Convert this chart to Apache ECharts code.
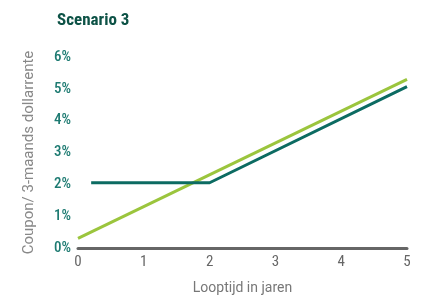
<!DOCTYPE html>
<html><head><meta charset="utf-8">
<script src="https://cdn.jsdelivr.net/npm/echarts@6/dist/echarts.min.js"></script>
<style>html,body{margin:0;padding:0;background:#fff}#c{width:422px;height:300px}</style>
</head><body><div id="c"></div>
<script>
const title = 'Scenario 3';
const yAxisName = 'Coupon/ 3-maands dollarrente';
const xAxisName = 'Looptijd in jaren';
const couponX = [0.2, 2, 5];
const couponY = [2.05, 2.05, 5.07];
const rateX = [0, 5];
const rateY = [0.3, 5.3];
const yTicks = [0, 1, 2, 3, 4, 5, 6];
const xTicks = [0, 1, 2, 3, 4, 5];

const font = '"Liberation Sans Narrow", "Roboto Condensed", Roboto, sans-serif';
const chart = echarts.init(document.getElementById('c'), null, {renderer: 'canvas'});
chart.setOption({
  animation: false,
  title: {text: title, left: 52, top: 7, textStyle: {fontFamily: font, fontSize: 17, fontWeight: 'bold', color: '#0d5246'}},
  grid: {left: 78, right: 15, top: 57, bottom: 52},
  xAxis: {
    type: 'value', min: xTicks[0], max: xTicks[xTicks.length-1], interval: 1,
    name: xAxisName, nameLocation: 'middle', nameGap: 33,
    nameTextStyle: {fontFamily: 'Roboto, sans-serif', fontSize: 14, color: '#777'},
    axisLine: {show: true, lineStyle: {color: '#666', width: 3}},
    axisTick: {show: false}, splitLine: {show: false},
    axisLabel: {fontFamily: font, fontSize: 15, color: '#666', margin: 7}
  },
  yAxis: {
    type: 'value', min: yTicks[0], max: yTicks[yTicks.length-1], interval: 1,
    name: yAxisName, nameLocation: 'middle', nameGap: 41,
    nameTextStyle: {fontFamily: 'Roboto, sans-serif', fontSize: 15, color: '#888'},
    axisLine: {show: false}, axisTick: {show: false}, splitLine: {show: false},
    axisLabel: {fontFamily: font, fontSize: 15, fontWeight: 500, color: '#1e7b72', margin: 7, formatter: v => v + '%'}
  },
  series: [
    {type: 'line', data: rateX.map((x,i)=>[x, rateY[i]]), symbol: 'none', lineStyle: {color: '#9bc53d', width: 3}},
    {type: 'line', data: couponX.map((x,i)=>[x, couponY[i]]), symbol: 'none', lineStyle: {color: '#0c6b62', width: 3}}
  ]
});
</script></body></html>
